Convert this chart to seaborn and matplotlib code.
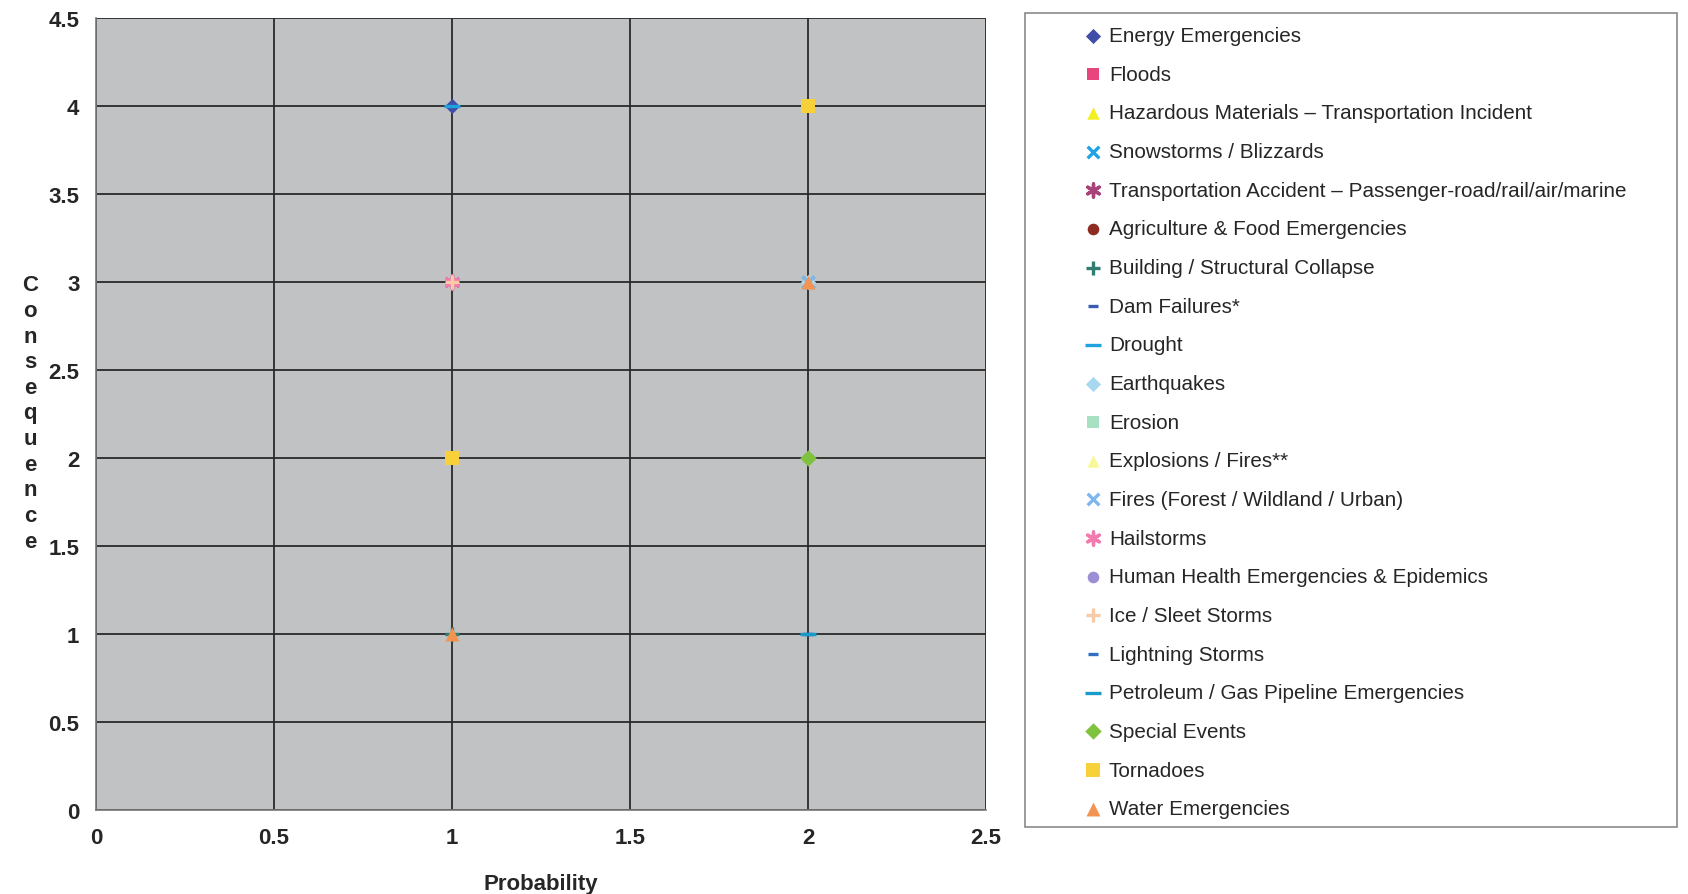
import numpy as np
import pandas as pd
import matplotlib
matplotlib.use('Agg')
import matplotlib.pyplot as plt
import seaborn as sns
from matplotlib.patches import Rectangle

sns.set_style("white")
plt.rcParams['font.family'] = ['Liberation Sans', 'DejaVu Sans']

# == hazards, in legend order, with style
hazards = ['Energy Emergencies', 'Floods',
           'Hazardous Materials \u2013 Transportation Incident',
           'Snowstorms / Blizzards',
           'Transportation Accident \u2013 Passenger-road/rail/air/marine',
           'Agriculture & Food Emergencies', 'Building / Structural Collapse',
           'Dam Failures*', 'Drought', 'Earthquakes', 'Erosion',
           'Explosions / Fires**', 'Fires (Forest / Wildland / Urban)',
           'Hailstorms', 'Human Health Emergencies & Epidemics',
           'Ice / Sleet Storms', 'Lightning Storms',
           'Petroleum / Gas Pipeline Emergencies', 'Special Events',
           'Tornadoes', 'Water Emergencies']
markers = ['D', 's', '^', 'x', (6, 2, 0), 'o', '+', '_', '_', 'D', 's',
           '^', 'x', (6, 2, 0), 'o', '+', '_', '_', 'D', 's', '^']
colors = ['#3F4FA8', '#E8457F', '#F2F020', '#1FA3E6', '#A8427A', '#8E2B22',
          '#2F7D73', '#3A5CB0', '#1FA3E0', '#A8D8F0', '#A8E0C4', '#F8F89A',
          '#7FB6EE', '#F27AAE', '#9C8FD6', '#F8CBA6', '#2F6FC0', '#1A9CCB',
          '#7EC23E', '#F8D03A', '#F29450']
msizes = [60, 65, 80, 70, 90, 70, 90, 50, 120, 60, 65, 80, 70, 90, 70, 90,
          50, 120, 70, 110, 100]

# == points (hazard, probability, consequence)
pt_hazard = ['Energy Emergencies', 'Drought', 'Floods',
             'Hazardous Materials \u2013 Transportation Incident', 'Tornadoes',
             'Transportation Accident \u2013 Passenger-road/rail/air/marine',
             'Ice / Sleet Storms', 'Hailstorms',
             'Snowstorms / Blizzards', 'Earthquakes',
             'Fires (Forest / Wildland / Urban)', 'Water Emergencies',
             'Agriculture & Food Emergencies', 'Erosion',
             'Explosions / Fires**', 'Tornadoes',
             'Human Health Emergencies & Epidemics', 'Special Events',
             'Building / Structural Collapse', 'Water Emergencies',
             'Dam Failures*', 'Lightning Storms',
             'Petroleum / Gas Pipeline Emergencies']
pt_prob = [1, 1, 2, 2, 2, 1, 1, 1, 2, 2, 2, 2, 1, 1, 1, 1, 2, 2, 1, 1, 2, 2, 2]
pt_cons = [4, 4, 4, 4, 4, 3, 3, 3, 3, 3, 3, 3, 2, 2, 2, 2, 2, 2, 1, 1, 1, 1, 1]

df = pd.DataFrame({'hazard': pt_hazard, 'Probability': pt_prob,
                   'Consequence': pt_cons})

fig = plt.figure(figsize=(16.88, 8.95), dpi=100)
ax = fig.add_axes([96/1688, 1-811/895, 890/1688, 792/895])
ax.set_facecolor('#C0C2C3')

for h, m, c, s in zip(hazards, markers, colors, msizes):
    sub = df[df['hazard'] == h]
    filled = m not in ('x', '+', '_', (6, 2, 0))
    kw = dict(linewidth=0) if filled else dict(linewidth=2.4)
    sns.scatterplot(data=sub, x='Probability', y='Consequence', ax=ax,
                    marker=m, color=c, s=s, label=h, zorder=3, **kw)

ax.set_xlim(0, 2.5)
ax.set_ylim(0, 4.5)
ax.set_xticks(np.arange(0, 2.51, 0.5))
ax.set_yticks(np.arange(0, 4.51, 0.5))
ax.set_xticklabels(['0', '0.5', '1', '1.5', '2', '2.5'])
ax.set_yticklabels(['0', '0.5', '1', '1.5', '2', '2.5', '3', '3.5', '4', '4.5'])
ax.grid(True, color='#2a2a2a', linewidth=1.3)
ax.set_axisbelow(True)
for sp in ['top', 'right']:
    ax.spines[sp].set_visible(False)
for sp in ['left', 'bottom']:
    ax.spines[sp].set_color('#777777')
    ax.spines[sp].set_linewidth(1.2)
ax.tick_params(axis='both', direction='out', length=6, width=1.2,
               color='#777777', labelsize=16, pad=6)
for t in ax.get_xticklabels() + ax.get_yticklabels():
    t.set_fontweight('bold')
ax.set_xlabel('Probability', fontsize=16, fontweight='bold', labelpad=18)
ax.set_ylabel('')
fig.text(30/1688, 1-414/895, '\n'.join('Consequence'), ha='center',
         va='center', fontsize=16, fontweight='bold', linespacing=1.29)

# == legend with a drawn frame
frame = Rectangle((1025/1688, 1-828/895), 652/1688, 814/895,
                  transform=fig.transFigure, facecolor='white',
                  edgecolor='#8a8a8a', linewidth=1.2, zorder=-1)
fig.patches.append(frame)
ax.legend(loc='upper left', bbox_to_anchor=(1084/1688, 1-27/895),
          bbox_transform=fig.transFigure, frameon=False, fontsize=14.9,
          labelspacing=0.95, handlelength=0.9, handletextpad=0.3,
          borderpad=0, borderaxespad=0)

fig.savefig('out.png', dpi=100)
